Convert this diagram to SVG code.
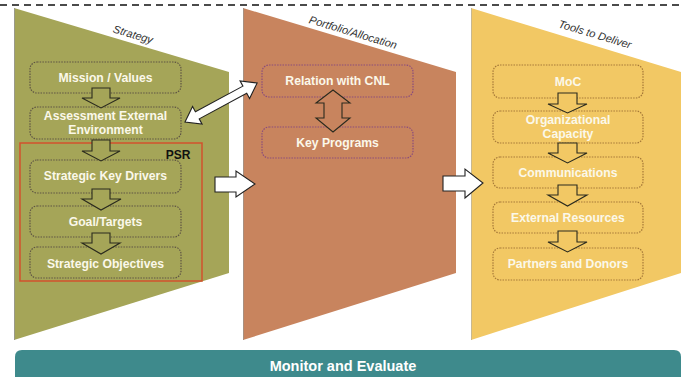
<svg xmlns="http://www.w3.org/2000/svg" width="681" height="377" viewBox="0 0 681 377">
<style>
.panel-title{font-family:"Liberation Sans",Arial,sans-serif;font-size:11px;font-style:italic;fill:#333333;text-anchor:middle}
.lbl{font-family:"Liberation Sans",Arial,sans-serif;font-size:12.2px;font-weight:bold;fill:#fbf8ea;text-anchor:middle}
.sbox{fill:none;stroke:#5e5444;stroke-width:1.2;stroke-dasharray:1.5 1.2}
.pbox{fill:none;stroke:#8a4c7c;stroke-width:1.2;stroke-dasharray:1.5 1.2}
.tbox{fill:none;stroke:#a57838;stroke-width:1.2;stroke-dasharray:1.5 1.2}
.blk{stroke:#2a2a1e;stroke-width:1.1;stroke-linejoin:miter}
.wht{fill:#ffffff;stroke:#222;stroke-width:1.1}
</style>
<rect width="681" height="377" fill="#ffffff"/>
<line x1="0" y1="5" x2="681" y2="5" stroke="#111" stroke-width="1.5" stroke-dasharray="7 5"/>

<g id="panel-strategy">
<polygon points="14,8 229,72 229,273 14,340" fill="#a5a558"/>
<line x1="14.5" y1="8" x2="14.5" y2="340" stroke="#9a9a8a" stroke-width="1"/>
<text class="panel-title" transform="translate(132,38) rotate(16.6)">Strategy</text>
</g>
<g id="panel-portfolio">
<polygon points="243,8 456,72 456,273 243,340" fill="#c8845e"/>
<line x1="243.5" y1="8" x2="243.5" y2="340" stroke="#a89080" stroke-width="1"/>
<text class="panel-title" transform="translate(352,36) rotate(16.6)">Portfolio/Allocation</text>
</g>
<g id="panel-tools">
<polygon points="471,8 681,72 681,273 471,340" fill="#f2c864"/>
<line x1="471.5" y1="8" x2="471.5" y2="340" stroke="#c8b890" stroke-width="1"/>
<text class="panel-title" transform="translate(594,38) rotate(16.6)">Tools to Deliver</text>
</g>

<g id="psr">
<rect x="20" y="143" width="182" height="138" fill="none" stroke="#d2522c" stroke-width="1.5"/>
<text x="178" y="159" font-family="'Liberation Sans',Arial,sans-serif" font-size="12" font-weight="bold" fill="#111" text-anchor="middle">PSR</text>
</g>

<g id="n-mission"><rect class="sbox" x="30" y="62" width="151" height="31" rx="7"/><text class="lbl" x="105.5" y="82">Mission / Values</text></g>
<g id="n-assessment"><rect class="sbox" x="30" y="107" width="151" height="32" rx="7"/><text class="lbl" x="105.5" y="120">Assessment External</text><text class="lbl" x="105.5" y="134">Environment</text></g>
<g id="n-drivers"><rect class="sbox" x="30" y="160" width="151" height="33" rx="7"/><text class="lbl" x="105.5" y="180">Strategic Key Drivers</text></g>
<g id="n-goal"><rect class="sbox" x="30" y="206" width="151" height="31" rx="7"/><text class="lbl" x="105.5" y="226">Goal/Targets</text></g>
<g id="n-objectives"><rect class="sbox" x="30" y="247" width="151" height="31" rx="7"/><text class="lbl" x="105.5" y="268">Strategic Objectives</text></g>

<g id="n-cnl"><rect class="pbox" x="262" y="65" width="151" height="32" rx="7"/><text class="lbl" x="337.5" y="85">Relation with CNL</text></g>
<g id="n-programs"><rect class="pbox" x="262" y="127" width="151" height="31" rx="7"/><text class="lbl" x="337.5" y="147">Key Programs</text></g>

<g id="n-moc"><rect class="tbox" x="493" y="65" width="150" height="33" rx="7"/><text class="lbl" x="568" y="86">MoC</text></g>
<g id="n-capacity"><rect class="tbox" x="493" y="111" width="150" height="32" rx="7"/><text class="lbl" x="568" y="124">Organizational</text><text class="lbl" x="568" y="138">Capacity</text></g>
<g id="n-comms"><rect class="tbox" x="493" y="157" width="150" height="31" rx="7"/><text class="lbl" x="568" y="177">Communications</text></g>
<g id="n-external"><rect class="tbox" x="493" y="202" width="150" height="31" rx="7"/><text class="lbl" x="568" y="222">External Resources</text></g>
<g id="n-partners"><rect class="tbox" x="493" y="248" width="150" height="32" rx="7"/><text class="lbl" x="568" y="268">Partners and Donors</text></g>

<g id="n-monitor">
<path d="M15,357 Q15,350 22,350 L674,350 Q681,350 681,357 L681,377 L15,377 Z" fill="#3e8a8c"/>
<text x="343" y="371" font-family="'Liberation Sans',Arial,sans-serif" font-size="14.5" font-weight="bold" fill="#ffffff" text-anchor="middle">Monitor and Evaluate</text>
</g>

<g id="connectors">
<path class="blk" fill="#a5a558" d="M92,88 L110,88 L110,98 L120,98 L101,108 L82,98 L92,98 Z"/>
<path class="blk" fill="#a5a558" d="M92,140 L110,140 L110,151 L120,151 L101,161 L82,151 L92,151 Z"/>
<path class="blk" fill="#a5a558" d="M92,189 L110,189 L110,199 L121,199 L101,210 L82,199 L92,199 Z"/>
<path class="blk" fill="#a5a558" d="M92,233 L110,233 L110,243 L120,243 L101,254 L82,243 L92,243 Z"/>

<path class="blk" fill="#f2c864" d="M558,93 L577,93 L577,104 L587,104 L567.5,113 L548,104 L558,104 Z"/>
<path class="blk" fill="#f2c864" d="M558,143 L577,143 L577,153 L587,153 L567.5,163 L548,153 L558,153 Z"/>
<path class="blk" fill="#f2c864" d="M558,185 L577,185 L577,195 L587,195 L567.5,206 L548,195 L558,195 Z"/>
<path class="blk" fill="#f2c864" d="M558,231 L577,231 L577,242 L587,242 L567.5,252 L548,242 L558,242 Z"/>

<path class="blk" fill="#c8845e" d="M333,90 L350,103 L342,103 L342,118 L350,118 L333,132 L316,118 L324,118 L324,103 L316,103 Z"/>

<path class="wht" transform="translate(185,122) rotate(-28.4)" d="M0,0 L14,-10 L14,-4 L68,-4 L68,-10 L82,0 L68,10 L68,4 L14,4 L14,10 Z"/>

<path class="wht" d="M215,177 L236,177 L236,171 L255,184 L236,197 L236,192 L215,192 Z"/>
<path class="wht" d="M443,176 L465,176 L465,169 L483,183 L465,198 L465,191 L443,191 Z"/>
</g>
</svg>
